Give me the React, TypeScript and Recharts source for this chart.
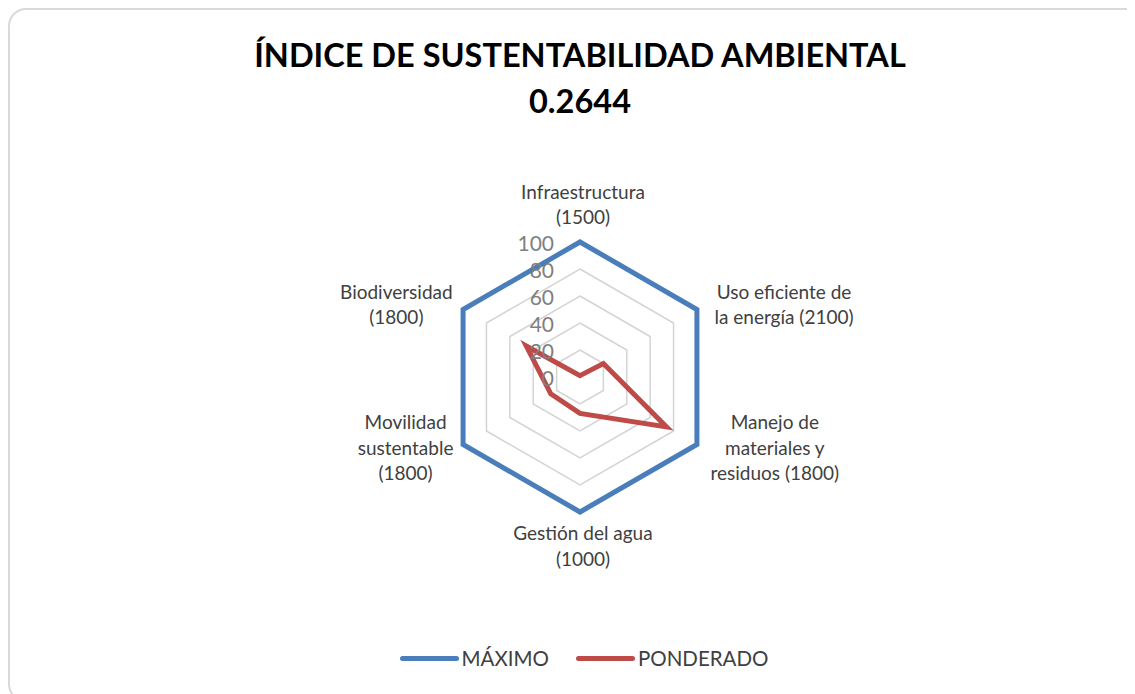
import React from 'react';
import {
  RadarChart,
  Radar,
  PolarGrid,
  PolarAngleAxis,
  PolarRadiusAxis,
  Legend,
} from 'recharts';

const categories = [
  'Infraestructura',
  'Uso eficiente de la energía',
  'Manejo de materiales y residuos',
  'Gestión del agua',
  'Movilidad sustentable',
  'Biodiversidad',
];
const tickLines = [
  ['Infraestructura', '(1500)'],
  ['Uso eficiente de', 'la energía (2100)'],
  ['Manejo de', 'materiales y', 'residuos (1800)'],
  ['Gestión del agua', '(1000)'],
  ['Movilidad', 'sustentable', '(1800)'],
  ['Biodiversidad', '(1800)'],
];
const maximo = [100, 100, 100, 100, 100, 100];
const ponderado = [1, 20, 74, 27, 25, 46];
const radiusTicks = [0, 20, 40, 60, 80, 100];

const data = categories.map((name, i) => ({
  name,
  maximo: maximo[i],
  ponderado: ponderado[i],
}));

const CX = 570;
const CY = 367;
const FONT = 'Lato, "Open Sans", sans-serif';
const LINE_H = 25.5;

const AngleTick = (props: any) => {
  const { x, y, payload } = props;
  const idx = categories.indexOf(payload.value);
  const lines = tickLines[idx] || [payload.value];
  const n = lines.length;
  const maxChars = Math.max(...lines.map((l) => l.length));
  const half = maxChars * 4.6;
  let tx = x;
  let baselines: number[];
  if (Math.abs(x - CX) < 2) {
    tx = x + 3;
    if (y < CY) {
      baselines = lines.map((_, i) => y - 10 - (n - 1 - i) * LINE_H);
    } else {
      baselines = lines.map((_, i) => y + 20 + i * LINE_H);
    }
  } else {
    tx = x > CX ? x + half + 2 : x - half;
    baselines = lines.map((_, i) => y + (i - (n - 1) / 2) * LINE_H + 6);
  }
  return (
    <g>
      {lines.map((l, i) => (
        <text
          key={i}
          x={tx}
          y={baselines[i]}
          textAnchor="middle"
          fill="#404040"
          fontSize={19}
          fontFamily={FONT}
        >
          {l}
        </text>
      ))}
    </g>
  );
};

const RadiusTick = (props: any) => {
  const { x, y, payload } = props;
  return (
    <text
      x={x - 26}
      y={y}
      textAnchor="end"
      dominantBaseline="central"
      fill="#7f7f7f"
      fontSize={21}
      fontFamily={FONT}
    >
      {payload.value}
    </text>
  );
};

const renderLegend = (props: any) => {
  const { payload } = props;
  return (
    <div style={{ display: 'flex', justifyContent: 'center', gap: 27, fontFamily: FONT, paddingLeft: 8 }}>
      {(payload || []).map((entry: any) => (
        <div key={entry.value} style={{ display: 'flex', alignItems: 'center' }}>
          <span
            style={{
              display: 'inline-block',
              width: 59,
              height: 5,
              borderRadius: 3,
              background: entry.color,
              marginRight: 3,
            }}
          />
          <span style={{ fontSize: 20.5, color: '#404040' }}>{entry.value}</span>
        </div>
      ))}
    </div>
  );
};

export default function App() {
  return (
    <div
      style={{
        position: 'relative',
        width: 1135,
        height: 694,
        border: '2px solid #d9d9d9',
        borderRadius: 18,
        boxSizing: 'border-box',
        background: '#fff',
      }}
    >
      <style>{'body{overflow:hidden}'}</style>
      <div
        style={{
          position: 'absolute',
          top: 22,
          left: 0,
          width: 1140,
          textAlign: 'center',
          fontFamily: FONT,
          fontWeight: 700,
          fontSize: 32.5,
          lineHeight: '46px',
          color: '#000',
        }}
      >
        <div>ÍNDICE DE SUSTENTABILIDAD AMBIENTAL</div>
        <div>0.2644</div>
      </div>
      <div style={{ position: 'absolute', top: 0, left: 0 }}>
        <RadarChart
          width={1131}
          height={690}
          data={data}
          cx={CX}
          cy={CY}
          outerRadius={135}
          margin={{ top: 0, right: 0, bottom: 0, left: 0 }}
        >
          <PolarGrid gridType="polygon" radialLines={false} stroke="#d4d4d4" strokeWidth={1.5} />
          <PolarAngleAxis dataKey="name" tick={AngleTick} tickLine={false} axisLine={false} />
          <PolarRadiusAxis
            angle={90}
            domain={[0, 100]}
            ticks={radiusTicks}
            tickCount={6}
            axisLine={false}
            tickLine={false}
            tick={RadiusTick}
          />
          <Radar
            name="MÁXIMO"
            dataKey="maximo"
            stroke="#4a7ebb"
            strokeWidth={5}
            fill="none"
            fillOpacity={0}
            dot={false}
            isAnimationActive={false}
          />
          <Radar
            name="PONDERADO"
            dataKey="ponderado"
            stroke="#be4b48"
            strokeWidth={5}
            fill="none"
            fillOpacity={0}
            dot={false}
            isAnimationActive={false}
          />
          <Legend
            content={renderLegend}
            wrapperStyle={{ position: 'absolute', top: 636, left: 0, width: 1140 }}
          />
        </RadarChart>
      </div>
    </div>
  );
}
